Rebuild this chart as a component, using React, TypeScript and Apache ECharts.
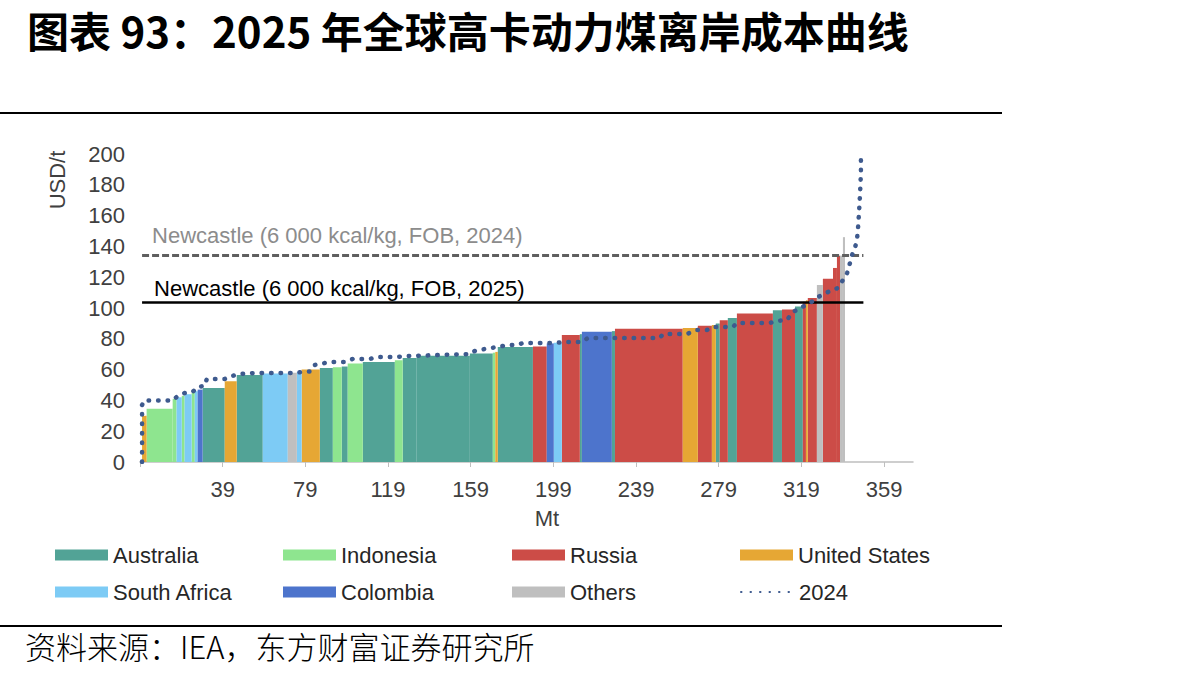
import React, { useEffect, useRef } from "react";
import * as echarts from "echarts";

// ---------------- DATA ----------------
const countries = ["Australia", "Indonesia", "Russia", "United States", "South Africa", "Colombia", "Others"];
const countryColors = ["#52A396", "#8EE58F", "#CC4C47", "#E6A734", "#7DCBF5", "#4D74CC", "#BFBFBF"];

// each supply block of the 2025 cost curve, in merit order
const barCountry = [
  "United States", "Indonesia", "Indonesia", "South Africa", "Indonesia", "South Africa", "Indonesia", "South Africa",
  "Colombia", "Australia", "United States", "Australia", "South Africa", "Others", "South Africa", "United States",
  "Australia", "Indonesia", "Australia", "Indonesia", "Australia", "Indonesia", "Australia", "Australia",
  "Australia", "Indonesia", "United States", "Australia", "Russia", "Colombia", "South Africa", "Russia",
  "Australia", "Colombia", "Australia", "Russia", "United States", "Russia", "United States", "Australia",
  "Russia", "Australia", "Russia", "Australia", "Russia", "Australia", "Russia", "United States",
  "Russia", "Others", "Russia", "Russia", "Russia", "Others", "Others",
];
// volume of each block (Mt)
const barVolume = [
  2.2, 12.6, 1.9, 2.5, 1.4, 3.4, 1.5, 1.4,
  2.4, 10.7, 5.8, 12.6, 12.1, 4.4, 2.3, 8.8,
  6.3, 4.3, 2.9, 7.3, 15.5, 3.8, 6.8, 25.7,
  11.1, 1.2, 1.2, 17.0, 6.7, 3.4, 3.9, 8.7,
  1.0, 14.5, 1.5, 32.8, 7.3, 6.8, 1.9, 1.9,
  3.9, 4.4, 17.4, 4.4, 6.3, 3.8, 1.5, 0.9,
  4.4, 2.9, 4.9, 1.9, 1.5, 1.4, 1.0,
];
// FOB cost of each block (USD/t)
const barCost = [
  30, 34.5, 41, 42, 43, 44, 45, 46,
  47, 48, 52.5, 56.5, 57.5, 58, 58.5, 60,
  61, 61.5, 62, 64, 65, 66, 67.5, 69,
  70.5, 71, 71.5, 74.7, 75, 77, 77.5, 82.5,
  83, 84.5, 85, 86.5, 87, 88.5, 89, 90,
  92, 93.5, 96.5, 98.5, 99, 101, 104, 105,
  106.5, 115, 119, 126, 134, 134, 146,
];

// 2024 cost curve (cumulative Mt, USD/t)
const curve2024Mt = [
  0, 0, 1, 15, 16.7, 20.6, 24.5, 26.9, 30.3, 31.3, 40, 43.4, 47.2, 54.5, 73.9, 79, 81.5, 83.5,
  90.8, 98.1, 101.9, 110.2, 114, 123.2, 128, 158.6, 161, 165.8, 172.1, 177, 181.8, 184.2, 199.7,
  204.5, 212.8, 215.7, 250.5, 252, 263.6, 268.4, 273.3, 276.2, 285.9, 287.8, 303.8, 307.2, 312,
  314.9, 319.3, 323.1, 327, 331.9, 336.7, 339.1, 341.1, 342.5, 343.5, 344.9, 345.9, 346.4, 346.9,
  347.4, 347.8, 347.8,
];
const curve2024Cost = [
  0, 37, 40, 40, 42.2, 44.8, 45.5, 48.7, 49.4, 53.9, 53.9, 55.8, 57.1, 57.8, 57.8, 58.8, 58.8, 63,
  64.9, 64.9, 66.9, 66.9, 68.2, 68.2, 68.8, 70.1, 72.1, 73.4, 74.7, 76, 76, 77.3, 77.3,
  77.9, 77.9, 80.5, 80.5, 83.1, 83.1, 85.7, 85.7, 87.7, 87.7, 90.3, 90.3, 91.6, 92.2,
  97.4, 100.6, 103.2, 107.1, 110.4, 113, 118.2, 122.7, 129.2, 134.4, 139, 144.2, 151.9, 162.3,
  174.7, 187.7, 197.4,
];

const newcastleNames = ["Newcastle (6 000 kcal/kg, FOB, 2024)", "Newcastle (6 000 kcal/kg, FOB, 2025)"];
const newcastlePrice = [134.4, 103.9];
const newcastleEndMt = 349;

const xTickLabels = [39, 79, 119, 159, 199, 239, 279, 319, 359];
const xTickMarks = [-1, 39, 79, 119, 159, 199, 239, 279, 319, 359];

const FONT = "'Liberation Sans', Arial, sans-serif";
const CJK = "'Noto Sans CJK SC', sans-serif";

export default function App() {
  const ref = useRef<HTMLDivElement>(null);

  useEffect(() => {
    if (!ref.current) return;
    const chart = echarts.init(ref.current, undefined, { renderer: "svg" });

    // build blocks [start, end, cost]
    let cum = 0;
    const blocks: { c: string; d: number[] }[] = [];
    for (let i = 0; i < barVolume.length; i++) {
      blocks.push({ c: barCountry[i], d: [cum, cum + barVolume[i], barCost[i]] });
      cum += barVolume[i];
    }

    const barSeries = countries.map((name, idx) => ({
      name,
      type: "custom",
      coordinateSystem: "cartesian2d",
      itemStyle: { color: countryColors[idx] },
      encode: { x: [0, 1], y: 2 },
      z: 2,
      data: blocks.filter((b) => b.c === name).map((b) => b.d),
      renderItem: (params: any, api: any) => {
        const p0 = api.coord([api.value(0), api.value(2)]);
        const p1 = api.coord([api.value(1), 0]);
        return {
          type: "rect",
          shape: { x: p0[0], y: p0[1], width: p1[0] - p0[0], height: p1[1] - p0[1] },
          style: { fill: countryColors[idx] },
        };
      },
    }));

    const legendPos = [
      [55, 544], [283, 544], [512, 544], [740, 544],
      [55, 581], [283, 581], [512, 581], [740, 581],
    ];
    const legendNames = ["Australia", "Indonesia", "Russia", "United States", "South Africa", "Colombia", "Others", "2024"];
    const legends = legendNames.map((n, i) => {
      const l: any = {
        data: [n],
        left: legendPos[i][0],
        top: legendPos[i][1],
        orient: "horizontal",
        itemWidth: 53,
        itemHeight: 11,
        selectedMode: false,
        padding: 0,
        textStyle: { fontSize: 22, fontFamily: FONT, color: "#262626" },
      };
      if (n === "2024") {
        l.itemHeight = 14;
        l.itemStyle = { opacity: 0, borderWidth: 0 };
      } else {
        l.icon = "rect";
      }
      return l;
    });

    const option: any = {
      animation: false,
      backgroundColor: "#ffffff",
      grid: { left: 140, right: 279, top: 154, bottom: 216, containLabel: false },
      legend: legends,
      xAxis: {
        type: "value",
        min: -1,
        max: 373,
        splitLine: { show: false },
        axisLine: { show: true, lineStyle: { color: "#BFBFBF", width: 1.5 } },
        axisTick: { show: true, length: 5, lineStyle: { color: "#BFBFBF" }, customValues: xTickMarks },
        axisLabel: {
          customValues: xTickLabels,
          fontSize: 22,
          fontFamily: FONT,
          color: "#404040",
          margin: 16,
        },
      },
      yAxis: {
        type: "value",
        min: 0,
        max: 200,
        interval: 20,
        splitLine: { show: false },
        axisLine: { show: false },
        axisTick: { show: false },
        axisLabel: { fontSize: 22, fontFamily: FONT, color: "#404040", margin: 15 },
      },
      series: [
        ...barSeries,
        {
          name: "Newcastle",
          type: "line",
          data: [],
          z: 5,
          silent: true,
          markLine: {
            silent: true,
            symbol: "none",
            animation: false,
            data: [
              [
                {
                  coord: [0, newcastlePrice[0]],
                  lineStyle: { color: "#5F5F5F", type: [7, 3], width: 3 },
                  label: {
                    show: true,
                    position: "insideStartTop",
                    formatter: newcastleNames[0],
                    color: "#8C8C8C",
                    fontSize: 22,
                    fontFamily: FONT,
                    distance: [10, 9],
                  },
                },
                { coord: [newcastleEndMt, newcastlePrice[0]] },
              ],
              [
                {
                  coord: [0, newcastlePrice[1]],
                  lineStyle: { color: "#000000", type: "solid", width: 2.5 },
                  label: {
                    show: true,
                    position: "insideStartTop",
                    formatter: newcastleNames[1],
                    color: "#000000",
                    fontSize: 22,
                    fontFamily: FONT,
                    distance: [12, 2],
                  },
                },
                { coord: [newcastleEndMt, newcastlePrice[1]] },
              ],
            ],
          },
        },
        {
          name: "2024",
          type: "line",
          z: 6,
          symbol: "none",
          showSymbol: false,
          smooth: false,
          silent: true,
          itemStyle: { color: "#3E5A8E" },
          lineStyle: { color: "#3E5A8E", width: 4.5, type: [0.5, 9], cap: "round" },
          data: curve2024Mt.map((x, i) => [x, curve2024Cost[i]]),
        },
      ],
      graphic: [
        {
          type: "text",
          left: 27,
          top: 8,
          style: {
            text: "图表 93：2025 年全球高卡动力煤离岸成本曲线",
            fontSize: 42,
            fontWeight: "bold",
            fontFamily: CJK,
            fill: "#000000",
          },
        },
        { type: "line", shape: { x1: 0, y1: 113, x2: 1002, y2: 113 }, style: { stroke: "#000", lineWidth: 2 } },
        { type: "line", shape: { x1: 0, y1: 626, x2: 1002, y2: 626 }, style: { stroke: "#000", lineWidth: 2 } },
        {
          type: "text",
          left: 25,
          top: 630,
          style: {
            text: "资料来源：IEA，东方财富证券研究所",
            fontSize: 31,
            fontFamily: CJK,
            fontWeight: 300,
            fill: "#000000",
          },
        },
        {
          type: "text",
          x: 57,
          y: 180,
          rotation: Math.PI / 2,
          style: {
            text: "USD/t",
            fontSize: 22,
            fontFamily: FONT,
            fill: "#404040",
            textAlign: "center",
            textVerticalAlign: "middle",
          },
        },
        {
          type: "text",
          x: 547,
          y: 518,
          style: {
            text: "Mt",
            fontSize: 22,
            fontFamily: FONT,
            fill: "#404040",
            textAlign: "center",
            textVerticalAlign: "middle",
          },
        },
      ],
    };

    chart.setOption(option);
    return () => chart.dispose();
  }, []);

  return (
    <div
      ref={ref}
      style={{ position: "fixed", left: 0, top: 0, width: 1192, height: 678, background: "#fff" }}
    />
  );
}
